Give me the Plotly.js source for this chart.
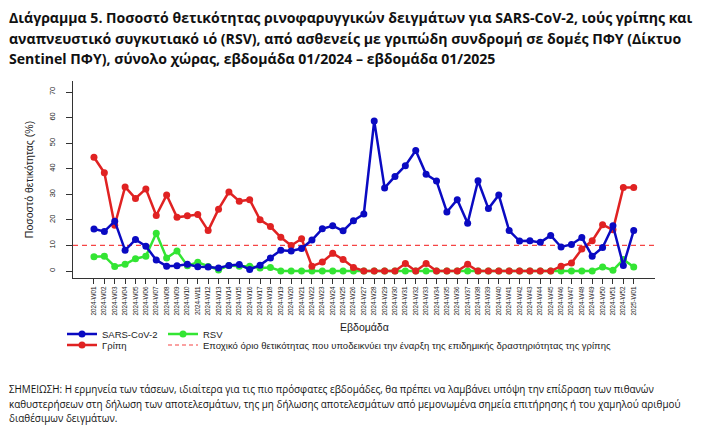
<!DOCTYPE html>
<html>
<head>
<meta charset="utf-8">
<script src="https://cdn.plot.ly/plotly-3.0.1.min.js"></script>
<style>html,body{margin:0;padding:0;background:#fff;}#chart{width:705px;height:435px;}</style>
</head>
<body>
<div id="chart"></div>
<script>
const weeks = ["2024-W01","2024-W02","2024-W03","2024-W04","2024-W05","2024-W06","2024-W07","2024-W08","2024-W09","2024-W10",
"2024-W11","2024-W12","2024-W13","2024-W14","2024-W15","2024-W16","2024-W17","2024-W18","2024-W19","2024-W20",
"2024-W21","2024-W22","2024-W23","2024-W24","2024-W25","2024-W26","2024-W27","2024-W28","2024-W29","2024-W30",
"2024-W31","2024-W32","2024-W33","2024-W34","2024-W35","2024-W36","2024-W37","2024-W38","2024-W39","2024-W40",
"2024-W41","2024-W42","2024-W43","2024-W44","2024-W45","2024-W46","2024-W47","2024-W48","2024-W49","2024-W50",
"2024-W51","2024-W52","2025-W01"];

const sarsCov2 = [16.4,15.5,19.5,8.1,12.3,9.7,4.3,1.9,2.1,2.6,
1.7,1.6,1.2,2.2,2.5,0.6,2.3,5.1,8.1,7.8,
8.8,12.1,16.5,17.7,15.7,19.7,22.3,58.7,32.5,37.0,
41.2,47.1,37.8,35.2,23.1,27.9,18.7,35.3,24.4,29.7,
15.8,11.7,11.8,11.2,13.9,9.4,10.4,13.1,5.8,9.2,
17.7,2.2,15.8];

const influenza = [44.5,38.4,17.9,32.9,28.4,32.1,21.7,29.7,21.0,21.6,
22.1,15.8,24.2,30.9,27.3,27.9,20.0,17.4,13.2,10.0,
12.6,1.9,3.5,6.9,4.5,1.4,0,0,0,0,
2.9,0,2.9,0,0,0,2.6,0,0,0,
0,0,0,0,0,1.9,3.1,8.6,11.8,18.1,
16.1,32.7,32.7];

const rsv = [5.6,5.8,1.8,2.6,4.8,5.8,14.8,5.1,7.8,2.1,
3.4,1.8,0.4,2.2,1.9,1.9,1.2,1.4,0,0,
0,0,0,0,0,0,0,0,0,0,
0,0,0,0,0,0,0,0,0,0,
0,0,0,0,0,0,0,0,0,1.6,
0.3,4.5,1.6];

const threshold = 10;
const yTicks = [0,10,20,30,40,50,60,70];

const seriesNames = ["SARS-CoV-2","Γρίπη","RSV","Εποχικό όριο θετικότητας που υποδεικνύει την έναρξη της επιδημικής δραστηριότητας της γρίπης"];
const xTitle = "Εβδομάδα";
const yTitle = "Ποσοστό θετικότητας (%)";
const titleLines = [
 "Διάγραμμα 5. Ποσοστό θετικότητας ρινοφαρυγγικών δειγμάτων για SARS-CoV-2, ιούς γρίπης και",
 "αναπνευστικό συγκυτιακό ιό (RSV), από ασθενείς με γριπώδη συνδρομή σε δομές ΠΦΥ (Δίκτυο",
 "Sentinel ΠΦΥ), σύνολο χώρας, εβδομάδα 01/2024 – εβδομάδα 01/2025"
];
const noteLines = [
 "ΣΗΜΕΙΩΣΗ: Η ερμηνεία των τάσεων, ιδιαίτερα για τις πιο πρόσφατες εβδομάδες, θα πρέπει να λαμβάνει υπόψη την επίδραση των πιθανών",
 "καθυστερήσεων στη δήλωση των αποτελεσμάτων, της μη δήλωσης αποτελεσμάτων από μεμονωμένα σημεία επιτήρησης ή του χαμηλού αριθμού",
 "διαθέσιμων δειγμάτων."
];

const idx = weeks.map((w,i)=>i);
const BLUE = "#0a0ac2", RED = "#e02222", GREEN = "#33e533", DASHRED = "#f54545";
const txtFont = "Liberation Sans, Arial, sans-serif";

function series(name, y, color, legend){
  return {x: idx, y: y, name: name, type: "scatter", mode: "lines+markers",
    line: {color: color, width: 2.5}, marker: {color: color, size: 7},
    legend: legend, hoverinfo: "skip", cliponaxis: false};
}

const traces = [
  series(seriesNames[2], rsv, GREEN, "legend2"),
  series(seriesNames[1], influenza, RED, "legend3"),
  series(seriesNames[0], sarsCov2, BLUE, "legend"),
  {x:[null], y:[null], name: seriesNames[3], type:"scatter", mode:"lines",
   line:{color: DASHRED, width: 1.2, dash: "4px,3px"}, legend: "legend4", hoverinfo:"skip"}
];

function leg(x, y){
  return {xref:"container", yref:"container", x: x/705, y: 1 - y/435, xanchor:"left", yanchor:"middle",
    orientation:"h", font:{family: txtFont, size: 9.5, color:"#222"}, bgcolor:"rgba(0,0,0,0)",
    itemwidth: 30, tracegroupgap: 0, traceorder:"normal"};
}

const W = 705, H = 435;
const plotL = 72.7, plotR = 655, plotT = 80.5, plotB = 277.7;
const px2x = p => (p - plotL) / (plotR - plotL);
const py2y = p => (plotB - p) / (plotB - plotT);

const titleY = [17, 38, 58];
const noteY = [389, 403.5, 418];
const annotations = [];
titleLines.forEach((t, i) => annotations.push({xref: "paper", yref: "paper", x: px2x(7), y: py2y(titleY[i]),
  xanchor: "left", yanchor: "middle", align: "left", showarrow: false, text: "<b>" + t + "</b>",
  font: {family: "Open Sans, sans-serif", size: 14.1, color: "#111"}}));
noteLines.forEach((t, i) => annotations.push({xref: "paper", yref: "paper", x: px2x(7), y: py2y(noteY[i]),
  xanchor: "left", yanchor: "middle", align: "left", showarrow: false, text: t,
  font: {family: "Open Sans, sans-serif", size: 9.9, color: "#111"}}));
annotations.push({xref: "paper", yref: "paper", x: 0.5, y: py2y(327), xanchor: "center", yanchor: "middle",
  showarrow: false, text: xTitle, font: {family: txtFont, size: 10.5, color: "#222"}});

const layout = {
  width: W, height: H,
  paper_bgcolor: "#fff", plot_bgcolor: "#fff",
  margin: {l: plotL, r: W - plotR, t: plotT, b: H - plotB, pad: 0},
  showlegend: true,
  legend: leg(62, 334),
  legend2: leg(163, 334),
  legend3: leg(62, 345),
  legend4: leg(163, 345),
  xaxis: {range: [-2.02, 54.05], tickmode: "array", tickvals: idx, ticktext: weeks, tickangle: -90,
    tickfont: {family: txtFont, size: 6.3, color: "#222"}, ticks: "outside", ticklen: 5, tickcolor: "#333",
    showline: true, linecolor: "#333", linewidth: 1, showgrid: false, zeroline: false, fixedrange: true},
  yaxis: {range: [-2.73, 74.3], tickmode: "array", tickvals: yTicks, tickangle: -90,
    tickfont: {family: txtFont, size: 7.5, color: "#222"}, ticks: "outside", ticklen: 6, tickcolor: "#333",
    ticklabelstandoff: 8,
    showline: true, linecolor: "#333", linewidth: 1, showgrid: false, zeroline: false, fixedrange: true,
    title: {text: yTitle, font: {family: txtFont, size: 10.5, color: "#222"}, standoff: 12}},
  shapes: [{type: "line", xref: "paper", x0: 0, x1: 1, yref: "y", y0: threshold, y1: threshold,
    line: {color: DASHRED, width: 1.2, dash: "5px,4px"}, layer: "below"}],
  annotations: annotations
};

Plotly.newPlot("chart", traces, layout, {displayModeBar: false, staticPlot: true});
</script>
</body>
</html>
